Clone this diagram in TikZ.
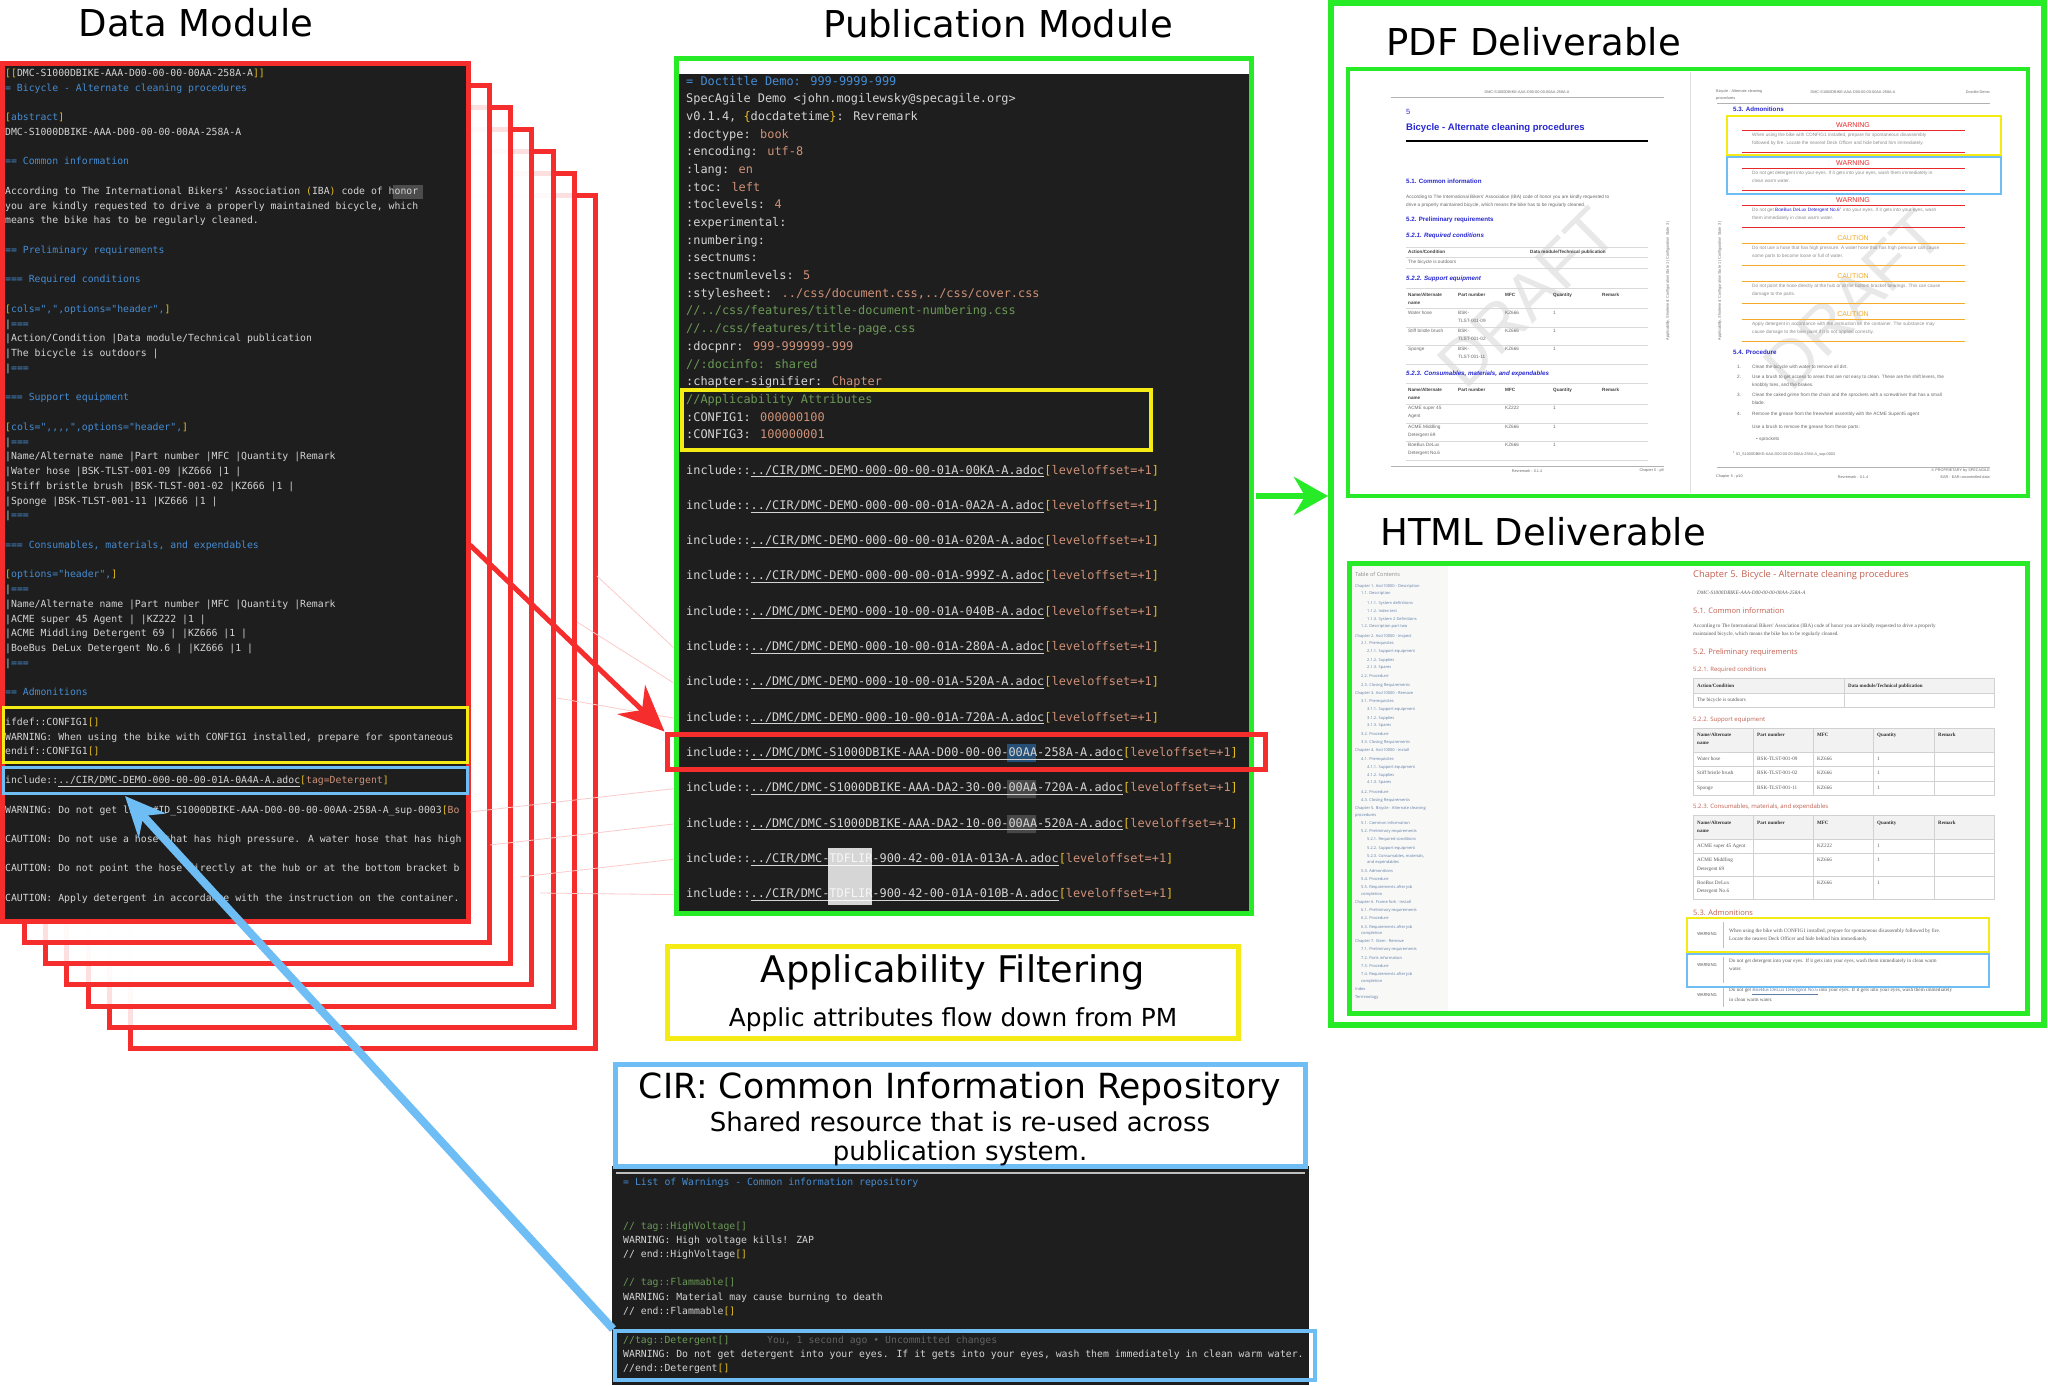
\documentclass[tikz,border=0pt]{standalone}
\usepackage{fontspec}
\setmainfont{DejaVu Sans}
\newfontfamily\codefont{DejaVu Sans Mono}[Ligatures=TeXOff]
\newfontfamily\docfont{Liberation Sans}
\newfontfamily\webfont{Liberation Serif}
\newfontfamily\webhead{Open Sans}
\usetikzlibrary{positioning,arrows.meta}
\definecolor{dmred}{RGB}{245,45,45}
\definecolor{pmgreen}{RGB}{40,235,40}
\definecolor{apyellow}{RGB}{245,235,20}
\definecolor{cirblue}{RGB}{110,190,245}
\definecolor{panel}{RGB}{30,30,30}
\definecolor{codefg}{RGB}{212,212,212}
\definecolor{codeblue}{RGB}{70,140,210}
\definecolor{codeyel}{RGB}{230,190,30}
\definecolor{codeorg}{RGB}{206,145,120}
\definecolor{codegrn}{RGB}{106,153,85}
\definecolor{selblue}{RGB}{38,79,120}
\definecolor{docblue}{RGB}{40,40,210}
\definecolor{docgray}{RGB}{105,105,105}
\definecolor{warnred}{RGB}{230,40,40}
\definecolor{cautorg}{RGB}{245,170,40}
\definecolor{webred}{RGB}{195,95,80}
\definecolor{toclink}{RGB}{95,125,165}
\definecolor{tocbg}{RGB}{248,248,247}
\newcommand{\cyel}[1]{\textcolor{codeyel}{#1}}
\newcommand{\corg}[1]{\textcolor{codeorg}{#1}}
\newcommand{\cblu}[1]{\textcolor{codeblue}{#1}}
\begin{document}
\begin{tikzpicture}[x=1pt, y=-1pt,
  heading/.style={font=\fontsize{37}{40}\selectfont, inner sep=0pt},
  dm/.style={anchor=west, inner sep=0pt, text height=7pt, text depth=2pt, text=#1,
             font=\codefont\fontsize{9.8}{11}\selectfont},
  dm/.default=codefg,
  pm/.style={anchor=west, inner sep=0pt, text height=8.5pt, text depth=2.5pt, text=#1,
             font=\codefont\fontsize{11.9}{13}\selectfont},
  pm/.default=codefg,
  cir/.style={dm=#1},
  cir/.default=codefg,
  faint/.style={dmred!25, line width=0.8pt},
  dtx/.style={anchor=west, inner sep=0pt, text=docgray, font=\docfont\fontsize{4.7}{5.5}\selectfont},
  dsm/.style={dtx, font=\docfont\fontsize{3.8}{4.5}\selectfont},
  dhd/.style={anchor=west, inner sep=0pt, text=docblue, font=\docfont\bfseries\fontsize{6.2}{7}\selectfont},
  dhi/.style={dhd, font=\docfont\bfseries\itshape\fontsize{6.2}{7}\selectfont},
  dth/.style={dtx, text=black!75, font=\docfont\bfseries\fontsize{4.6}{5.5}\selectfont},
  adm/.style={anchor=center, inner sep=0pt, text=#1, font=\docfont\fontsize{7}{8}\selectfont},
  draft/.style={text=black!9, inner sep=0pt, rotate=45, font=\docfont\fontsize{66}{66}\selectfont},
  wtx/.style={anchor=west, inner sep=0pt, text=black!65, font=\webfont\fontsize{5.2}{6}\selectfont},
  wth/.style={wtx, text=black!80, font=\webfont\bfseries\fontsize{5}{6}\selectfont},
  whd/.style={anchor=west, inner sep=0pt, text=webred, font=\webhead\fontsize{#1}{#1}\selectfont},
  toc/.style={anchor=west, inner sep=0pt, text=toclink, font=\webhead\fontsize{4}{5}\selectfont},
  wlab/.style={anchor=center, inner sep=0pt, text=black!70, font=\webhead\fontsize{4.2}{5}\selectfont},
]
\useasboundingbox[fill=white] (0,0) rectangle (2048,1385);

% ---------------- Data Module stack
\foreach \i in {6,5,...,1}
  \draw[dmred, line width=5pt, fill=white, fill opacity=0.85]
    ({3+21.3*\i},{63+22*\i}) rectangle ({468+21.3*\i},{921+21.3*\i});
\node[draw=dmred, line width=5pt, fill=panel, minimum width=466pt, minimum height=858pt, inner sep=0pt]
  (dmpanel) at (235,492) {};
\node[heading] (dmtitle) at (196,23) {Data Module};

\fill[black!70] (393,185) rectangle (423,199);
\node[dm] (d0) at (5,74) {\cyel{[[}DMC-S1000DBIKE-AAA-D00-00-00-00AA-258A-A\cyel{]]}};
\node[dm=codeblue] (d1) at (5,89) {= Bicycle - Alternate cleaning procedures};
\node[dm] (d3) at (5,118) {\cyel{[}\cblu{abstract}\cyel{]}};
\node[dm] (d4) at (5,133) {DMC-S1000DBIKE-AAA-D00-00-00-00AA-258A-A};
\node[dm=codeblue] (d6) at (5,162) {== Common information};
\node[dm] (d8) at (5,192) {According to The International Bikers' Association \cyel{(}IBA\cyel{)} code of honor};
\node[dm] (d9) at (5,207) {you are kindly requested to drive a properly maintained bicycle, which};
\node[dm] (d10) at (5,221) {means the bike has to be regularly cleaned.};
\node[dm=codeblue] (d12) at (5,251) {== Preliminary requirements};
\node[dm=codeblue] (d14) at (5,280) {=== Required conditions};
\node[dm] (d16) at (5,310) {\cyel{[}\cblu{cols=",",options="header",}\cyel{]}};
\node[dm] (d17) at (5,325) {|\cblu{===}};
\node[dm] (d18) at (5,339) {|Action/Condition |Data module/Technical publication};
\node[dm] (d19) at (5,354) {|The bicycle is outdoors |};
\node[dm] (d20) at (5,369) {|\cblu{===}};
\node[dm=codeblue] (d22) at (5,398) {=== Support equipment};
\node[dm] (d24) at (5,428) {\cyel{[}\cblu{cols=",,,,",options="header",}\cyel{]}};
\node[dm] (d25) at (5,443) {|\cblu{===}};
\node[dm] (d26) at (5,457) {|Name/Alternate name |Part number |MFC |Quantity |Remark};
\node[dm] (d27) at (5,472) {|Water hose |BSK-TLST-001-09 |KZ666 |1 |};
\node[dm] (d28) at (5,487) {|Stiff bristle brush |BSK-TLST-001-02 |KZ666 |1 |};
\node[dm] (d29) at (5,502) {|Sponge |BSK-TLST-001-11 |KZ666 |1 |};
\node[dm] (d30) at (5,516) {|\cblu{===}};
\node[dm=codeblue] (d32) at (5,546) {=== Consumables, materials, and expendables};
\node[dm] (d34) at (5,575) {\cyel{[}\cblu{options="header",}\cyel{]}};
\node[dm] (d35) at (5,590) {|\cblu{===}};
\node[dm] (d36) at (5,605) {|Name/Alternate name |Part number |MFC |Quantity |Remark};
\node[dm] (d37) at (5,620) {|ACME super 45 Agent | |KZ222 |1 |};
\node[dm] (d38) at (5,634) {|ACME Middling Detergent 69 | |KZ666 |1 |};
\node[dm] (d39) at (5,649) {|BoeBus DeLux Detergent No.6 | |KZ666 |1 |};
\node[dm] (d40) at (5,664) {|\cblu{===}};
\node[dm=codeblue] (d42) at (5,693) {== Admonitions};
\node[dm] (d44) at (5,723) {ifdef::CONFIG1\cyel{[]}};
\node[dm] (d45) at (5,738) {WARNING: When using the bike with CONFIG1 installed, prepare for spontaneous};
\node[dm] (d46) at (5,752) {endif::CONFIG1\cyel{[]}};
\node[dm] (d48) at (5,781) {include::\underline{../CIR/DMC-DEMO-000-00-00-01A-0A4A-A.adoc}\cyel{[}\corg{tag=Detergent}\cyel{]}};
\node[dm] (d50) at (5,811) {WARNING: Do not get link:\#ID\_S1000DBIKE-AAA-D00-00-00-00AA-258A-A\_sup-0003\cyel{[}\corg{Bo}};
\node[dm] (d52) at (5,840) {CAUTION: Do not use a hose that has high pressure. A water hose that has high};
\node[dm] (d54) at (5,869) {CAUTION: Do not point the hose directly at the hub or at the bottom bracket b};
\node[dm] (d56) at (5,899) {CAUTION: Apply detergent in accordance with the instruction on the container.};
\node[draw=apyellow, line width=3pt, minimum width=464pt, minimum height=55pt] (dmcfg) at (235,734.5) {};
\node[draw=cirblue, line width=3pt, minimum width=464pt, minimum height=26pt] (dminc) at (235,780) {};

% ---------------- Publication Module
\node[draw=pmgreen, line width=5pt, fill=white, minimum width=575pt, minimum height=855pt, inner sep=0pt]
  (pmframe) at (963.5,485.5) {};
\fill[panel] (679,74) rectangle (1248.5,910.5);
\node[heading] (pmtitle) at (998,24) {Publication Module};

\node[pm=codeblue] (p0) at (686,82) {= Doctitle Demo: 999-9999-999};
\node[pm] (p1) at (686,99) {SpecAgile Demo <john.mogilewsky@specagile.org>};
\node[pm] (p2) at (686,117) {v0.1.4, \cyel{\{}docdatetime\cyel{\}}: Revremark};
\node[pm] (p3) at (686,135) {:doctype: \corg{book}};
\node[pm] (p4) at (686,152) {:encoding: \corg{utf-8}};
\node[pm] (p5) at (686,170) {:lang: \corg{en}};
\node[pm] (p6) at (686,188) {:toc: \corg{left}};
\node[pm] (p7) at (686,205) {:toclevels: \corg{4}};
\node[pm] (p8) at (686,223) {:experimental:};
\node[pm] (p9) at (686,241) {:numbering:};
\node[pm] (p10) at (686,258) {:sectnums:};
\node[pm] (p11) at (686,276) {:sectnumlevels: \corg{5}};
\node[pm] (p12) at (686,294) {:stylesheet: \corg{../css/document.css,../css/cover.css}};
\node[pm=codegrn] (p13) at (686,311) {//../css/features/title-document-numbering.css};
\node[pm=codegrn] (p14) at (686,329) {//../css/features/title-page.css};
\node[pm] (p15) at (686,347) {:docpnr: \corg{999-999999-999}};
\node[pm=codegrn] (p16) at (686,365) {//:docinfo: shared};
\node[pm] (p17) at (686,382) {:chapter-signifier: \corg{Chapter}};
\node[pm=codegrn] (p18) at (686,400) {//Applicability Attributes};
\node[pm] (p19) at (686,418) {:CONFIG1: \corg{000000100}};
\node[pm] (p20) at (686,435) {:CONFIG3: \corg{100000001}};
\node[draw=apyellow, line width=4pt, minimum width=469pt, minimum height=60pt] (pmcfg) at (916.5,420) {};

\fill[selblue] (1007,744) rectangle (1036,762);
\fill[black!72] (1007,780) rectangle (1036,798) (1007,815) rectangle (1036,833);
\foreach \pth [count=\i] in {CIR/DMC-DEMO-000-00-00-01A-00KA-A, CIR/DMC-DEMO-000-00-00-01A-0A2A-A,
    CIR/DMC-DEMO-000-00-00-01A-020A-A, CIR/DMC-DEMO-000-00-00-01A-999Z-A,
    DMC/DMC-DEMO-000-10-00-01A-040B-A, DMC/DMC-DEMO-000-10-00-01A-280A-A,
    DMC/DMC-DEMO-000-10-00-01A-520A-A, DMC/DMC-DEMO-000-10-00-01A-720A-A,
    DMC/DMC-S1000DBIKE-AAA-D00-00-00-00AA-258A-A, DMC/DMC-S1000DBIKE-AAA-DA2-30-00-00AA-720A-A,
    DMC/DMC-S1000DBIKE-AAA-DA2-10-00-00AA-520A-A, CIR/DMC-TDFLIR-900-42-00-01A-013A-A,
    CIR/DMC-TDFLIR-900-42-00-01A-010B-A}
  \node[pm] (inc\i) at (686,{471+35.3*(\i-1)}) {include::\underline{../\pth.adoc}\cyel{[}\corg{leveloffset=+1}\cyel{]}};
\fill[white, fill opacity=0.82] (828,848) rectangle (872,905);
\node[draw=dmred, line width=5pt, minimum width=598pt, minimum height=35pt] (pmsel) at (966,751.5) {};

% faint traces from the stack into the includes
\foreach \sx/\sy/\j in {597/576/6, 577/622/7, 557/698/8, 470/812/10, 490/845/11, 520/877/12, 540/893/13}{
  \coordinate (src\j) at (\sx,\sy);
  \draw[faint] (src\j) -- (pmframe.west |- inc\j.west);
}

% ---------------- Applicability Filtering
\node[draw=apyellow, line width=5pt, minimum width=571pt, minimum height=92pt] (apbox) at (952.5,992) {};
\node[font=\fontsize{36.7}{40}\selectfont, inner sep=0pt] (aptitle) at (953,972) {Applicability Filtering};
\node[font=\fontsize{24.8}{28}\selectfont, inner sep=0pt] (apsub) at (953,1020) {Applic attributes flow down from PM};

% ---------------- CIR
\fill[panel] (612,1166) rectangle (1309,1385);
\draw[black!25, line width=1.5pt] (616,1173) -- (1305,1173);
\node[draw=cirblue, line width=5pt, fill=white, minimum width=690pt, minimum height=102pt] (cirbox) at (960,1115) {};
\node[font=\fontsize{34.6}{38}\selectfont, inner sep=0pt] (cirtitle) at (960,1089) {CIR: Common Information Repository};
\node[font=\fontsize{26}{29}\selectfont, align=center, inner sep=0pt] (cirsub) at (960,1139)
  {Shared resource that is re-used across\\publication system.};
\node[cir=codeblue] (c0) at (623,1183) {= List of Warnings - Common information repository};
\node[cir=codegrn] (c1) at (623,1227) {// tag::HighVoltage[]};
\node[cir] (c2) at (623,1241) {WARNING: High voltage kills! ZAP};
\node[cir] (c3) at (623,1255) {// end::HighVoltage\cyel{[]}};
\node[cir=codegrn] (c4) at (623,1283) {// tag::Flammable[]};
\node[cir] (c5) at (623,1298) {WARNING: Material may cause burning to death};
\node[cir] (c6) at (623,1312) {// end::Flammable\cyel{[]}};
\node[cir=codegrn] (c7) at (623,1341) {//tag::Detergent[]};
\node[cir=black!62] (c7b) at (767,1341) {You, 1 second ago • Uncommitted changes};
\node[cir] (c8) at (623,1355) {WARNING: Do not get detergent into your eyes. If it gets into your eyes, wash them immediately in clean warm water.};
\node[cir] (c9) at (623,1369) {//end::Detergent\cyel{[]}};
\node[draw=cirblue, line width=4pt, minimum width=700pt, minimum height=49pt] (cirtag) at (965,1355.5) {};

% ---------------- Deliverables
\node[draw=pmgreen, line width=6pt, minimum width=713pt, minimum height=1022pt] (deliv) at (1687.5,514) {};
\node[heading, anchor=west] (pdftitle) at (1386,42) {PDF Deliverable};
\node[heading, anchor=west] (htmltitle) at (1380,532) {HTML Deliverable};

% PDF pages
\draw[pmgreen, line width=4pt, fill=white] (1348,69) rectangle (2028,496);
\draw[black!12] (1690,72) -- (1690,493);
\node[draft] (wm1) at (1527,298) {DRAFT};
\node[draft] (wm2) at (1853,300) {DRAFT};
\draw[black!30, line width=0.6pt] (1391,97) -- (1664,97) (1391,466) -- (1664,466)
                                 (1717,103) -- (1990,103) (1717,467) -- (1990,467);
\node[dsm, anchor=center] (l0) at (1527,92) {DMC-S1000DBIKE-AAA-D00-00-00-00AA-258A-A};
\node[dhd, font=\docfont\fontsize{7.5}{8}\selectfont] (l1) at (1406,112) {5};
\node[dhd, font=\docfont\bfseries\fontsize{9.5}{10}\selectfont] (l2) at (1406,128) {Bicycle - Alternate cleaning procedures};
\draw[line width=2.5pt] (1406,141) -- (1648,141);
\node[dhd] (l3) at (1406,181) {5.1. Common information};
\node[dtx] (l4) at (1406,197) {According to The International Bikers' Association (IBA) code of honor you are kindly requested to};
\node[dtx] (l5) at (1406,205) {drive a properly maintained bicycle, which means the bike has to be regularly cleaned.};
\node[dhd] (l6) at (1406,220) {5.2. Preliminary requirements};
\node[dhi] (l7) at (1406,236) {5.2.1. Required conditions};
\draw[black!15] (1406,247) -- (1648,247) (1406,257) -- (1648,257) (1406,268) -- (1648,268);
\node[dth] (l8) at (1408,252) {Action/Condition};
\node[dth] (l9) at (1530,252) {Data module/Technical publication};
\node[dtx] (l10) at (1408,262) {The bicycle is outdoors};
\node[dhi] (l11) at (1406,279) {5.2.2. Support equipment};
\draw[black!15] (1406,288) -- (1648,288) (1406,308) -- (1648,308) (1406,327) -- (1648,327)
                (1406,345) -- (1648,345) (1406,364) -- (1648,364);
\node[dhi] (l12) at (1406,374) {5.2.3. Consumables, materials, and expendables};
\draw[black!15] (1406,383) -- (1648,383) (1406,404) -- (1648,404) (1406,423) -- (1648,423)
                (1406,441) -- (1648,441) (1406,460) -- (1648,460);
\foreach \hy in {295,390}{
  \node[dth] (na\hy) at (1408,\hy) {Name/Alternate};
  \node[dth] (nb\hy) at (1408,\hy+8) {name};
  \node[dth] (pn\hy) at (1458,\hy) {Part number};
  \node[dth] (mf\hy) at (1505,\hy) {MFC};
  \node[dth] (qt\hy) at (1553,\hy) {Quantity};
  \node[dth] (rm\hy) at (1602,\hy) {Remark};
}
\foreach \nm/\pn/\ry in {Water hose/09/313, Stiff bristle brush/02/331, Sponge/11/349}{
  \node[dtx] (sa\ry) at (1408,\ry) {\nm};
  \node[dtx] (sb\ry) at (1458,\ry) {BSK-};
  \node[dtx] (sc\ry) at (1458,\ry+8) {TLST-001-\pn};
  \node[dtx] (sd\ry) at (1505,\ry) {KZ666};
  \node[dtx] (se\ry) at (1553,\ry) {1};
}
\foreach \na/\nb/\mf/\ry in {ACME super 45/Agent/KZ222/408, ACME Middling/Detergent 69/KZ666/427,
                             BoeBus DeLux/Detergent No.6/KZ666/445}{
  \node[dtx] (ca\ry) at (1408,\ry) {\na};
  \node[dtx] (cb\ry) at (1408,\ry+8) {\nb};
  \node[dtx] (cc\ry) at (1505,\ry) {\mf};
  \node[dtx] (cd\ry) at (1553,\ry) {1};
}
\node[dsm, anchor=center] (l13) at (1527,471) {Revremark - 0.1.4};
\node[dsm, anchor=east] (l14) at (1664,471) {Chapter 5 - p9};
\node[dsm, rotate=90, anchor=center] (l15) at (1668,281) {Applicability, Shortened: Configuration State 1 | Configuration State 3 |};

\node[dsm] (r0) at (1716,92) {Bicycle - Alternate cleaning};
\node[dsm] (r1) at (1716,99) {procedures};
\node[dsm, anchor=center] (r2) at (1853,92) {DMC-S1000DBIKE-AAA-D00-00-00-00AA-258A-A};
\node[dsm, anchor=east] (r3) at (1990,92) {Doctitle Demo};
\node[dhd] (r4) at (1733,109) {5.3. Admonitions};
\foreach \ay/\acol/\atit/\aone/\atwo [count=\k] in {
    125/warnred/WARNING/{When using the bike with CONFIG1 installed, prepare for spontaneous disassembly}/{followed by fire. Locate the nearest Deck Officer and hide behind him immediately.},
    163/warnred/WARNING/{Do not get detergent into your eyes. If it gets into your eyes, wash them immediately in}/{clean warm water.},
    200/warnred/WARNING/{Do not get \textcolor{docblue}{BoeBus DeLux Detergent No.6}\textsuperscript{1} into your eyes. If it gets into your eyes, wash}/{them immediately in clean warm water.},
    238/cautorg/CAUTION/{Do not use a hose that has high pressure. A water hose that has high pressure can cause}/{some parts to become loose or full of water.},
    276/cautorg/CAUTION/{Do not point the hose directly at the hub or at the bottom bracket bearings. This can cause}/{damage to the parts.},
    314/cautorg/CAUTION/{Apply detergent in accordance with the instruction on the container. The substance may}/{cause damage to the bike paint if it is not applied correctly.}}{
  \node[adm=\acol] (at\k) at (1853,\ay) {\atit};
  \draw[\acol, line width=0.8pt] (1742,\ay+5) -- (1965,\ay+5) (1742,\ay+27) -- (1965,\ay+27);
  \node[dtx, text=black!45] (aa\k) at (1752,\ay+10) {\aone};
  \node[dtx, text=black!45] (ab\k) at (1752,\ay+18) {\atwo};
}
\draw[apyellow, line width=2.5pt] (1727,116) rectangle (2001,155);
\draw[cirblue, line width=2.5pt] (1727,157) rectangle (2001,194);
\node[dhd] (r5) at (1733,352) {5.4. Procedure};
\node[dtx] (r6) at (1737,367) {1.};
\node[dtx] (r7) at (1752,367) {Clean the bicycle with water to remove all dirt.};
\node[dtx] (r8) at (1737,377) {2.};
\node[dtx] (r9) at (1752,377) {Use a brush to get access to areas that are not easy to clean. These are the shift levers, the};
\node[dtx] (r10) at (1752,385) {knobbly tires, and the brakes.};
\node[dtx] (r11) at (1737,395) {3.};
\node[dtx] (r12) at (1752,395) {Clean the caked grime from the chain and the sprockets with a screwdriver that has a small};
\node[dtx] (r13) at (1752,403) {blade.};
\node[dtx] (r14) at (1737,414) {4.};
\node[dtx] (r15) at (1752,414) {Remove the grease from the freewheel assembly with the ACME Super45 agent};
\node[dtx] (r16) at (1752,427) {Use a brush to remove the grease from these parts:};
\node[dtx] (r17) at (1756,439) {• sprockets};
\node[dsm] (r18) at (1733,454) {\textsuperscript{1} ID\_S1000DBIKE-AAA-D00-00-00-00AA-258A-A\_sup-0003};
\node[dsm] (r19) at (1716,477) {Chapter 5 - p10};
\node[dsm, anchor=center] (r20) at (1853,477) {Revremark - 0.1.4};
\node[dsm, anchor=east] (r21) at (1990,471) {© PROPRIETARY by SPECAGILE};
\node[dsm, anchor=east] (r22) at (1990,477) {EAR - EAR uncontrolled data};
\node[dsm, rotate=90, anchor=center] (r23) at (1720,281) {Applicability, Shortened: Configuration State 1 | Configuration State 3 |};

% HTML page
\draw[pmgreen, line width=5pt, fill=white] (1349,563) rectangle (2027,1013);
\fill[tocbg] (1351.5,565.5) rectangle (1448,1010.5);
\node[toc, text=black!45, font=\webhead\fontsize{5.5}{6}\selectfont] (toc0) at (1355,574) {Table of Contents};
\foreach \ty/\lv/\ttxt [count=\n] in {586/0/Chapter 1. Asci10000 - Description, 594/1/1.1. Description,
    603/2/1.1.1. System definitions, 611/2/1.1.2. Index test, 619/2/1.1.3. System 2 Definitions,
    627/1/1.2. Description part two, 636/0/Chapter 2. Asci10000 - Inspect, 644/1/2.1. Prerequisites,
    652/2/2.1.1. Support equipment, 660/2/2.1.2. Supplies, 668/2/2.1.3. Spares, 676/1/2.2. Procedure,
    685/1/2.3. Closing Requirements, 693/0/Chapter 3. Asci10000 - Remove, 701/1/3.1. Prerequisites,
    710/2/3.1.1. Support equipment, 718/2/3.1.2. Supplies, 726/2/3.1.3. Spares, 734/1/3.2. Procedure,
    742/1/3.3. Closing Requirements, 750/0/Chapter 4. Asci10000 - Install, 759/1/4.1. Prerequisites,
    767/2/4.1.1. Support equipment, 775/2/4.1.2. Supplies, 783/2/4.1.3. Spares, 792/1/4.2. Procedure,
    800/1/4.3. Closing Requirements, 808/0/Chapter 5. Bicycle - Alternate cleaning, 815/0/procedures,
    823/1/5.1. Common information, 831/1/5.2. Preliminary requirements, 839/2/5.2.1. Required conditions,
    848/2/5.2.2. Support equipment, 856/2/{5.2.3. Consumables, materials,}, 862/2/and expendables,
    871/1/5.3. Admonitions, 879/1/5.4. Procedure, 887/1/5.5. Requirements after job, 894/1/completion,
    902/0/Chapter 6. Frame fork - Install, 910/1/6.1. Preliminary requirements, 918/1/6.2. Procedure,
    927/1/6.3. Requirements after job, 933/1/completion, 941/0/Chapter 7. Stem - Remove,
    949/1/7.1. Preliminary requirements, 958/1/7.2. Parts information, 966/1/7.3. Procedure,
    974/1/7.4. Requirements after job, 981/1/completion, 989/0/Index, 997/0/Terminology}
  \node[toc] (toc\n) at ({1355+6*\lv},\ty) {\ttxt};

\node[whd=9.3] (h1) at (1693,575) {Chapter 5. Bicycle - Alternate cleaning procedures};
\node[wtx, font=\webfont\itshape\fontsize{5.2}{6}\selectfont] (h2) at (1697,593) {DMC-S1000DBIKE-AAA-D00-00-00-00AA-258A-A};
\node[whd=7.5] (h3) at (1693,611) {5.1. Common information};
\node[wtx] (h4) at (1693,626) {According to The International Bikers' Association (IBA) code of honor you are kindly requested to drive a properly};
\node[wtx] (h5) at (1693,634) {maintained bicycle, which means the bike has to be regularly cleaned.};
\node[whd=7.5] (h6) at (1693,653) {5.2. Preliminary requirements};
\node[whd=6] (h7) at (1693,670) {5.2.1. Required conditions};
\draw[black!18, fill=black!5] (1693,678) rectangle (1994,693);
\draw[black!18] (1693,693) rectangle (1994,707) (1844,678) -- (1844,707);
\node[wth] (h8) at (1697,686) {Action/Condition};
\node[wth] (h9) at (1848,686) {Data module/Technical publication};
\node[wtx] (h10) at (1697,700) {The bicycle is outdoors};
\node[whd=6] (h11) at (1693,720) {5.2.2. Support equipment};
\draw[black!18, fill=black!5] (1693,728) rectangle (1994,752);
\draw[black!18] (1693,752) rectangle (1994,795) (1693,766) -- (1994,766) (1693,781) -- (1994,781);
\node[whd=6] (h12) at (1693,807) {5.2.3. Consumables, materials, and expendables};
\draw[black!18, fill=black!5] (1693,815) rectangle (1994,839);
\draw[black!18] (1693,839) rectangle (1994,899) (1693,853) -- (1994,853) (1693,876) -- (1994,876);
\foreach \cx in {1753,1813,1873,1934}
  \draw[black!18] (\cx,728) -- (\cx,795) (\cx,815) -- (\cx,899);
\foreach \hy in {735,823}{
  \node[wth] (wa\hy) at (1697,\hy) {Name/Alternate};
  \node[wth] (wb\hy) at (1697,\hy+8) {name};
  \node[wth] (wc\hy) at (1757,\hy) {Part number};
  \node[wth] (wd\hy) at (1817,\hy) {MFC};
  \node[wth] (we\hy) at (1877,\hy) {Quantity};
  \node[wth] (wf\hy) at (1938,\hy) {Remark};
}
\foreach \nm/\pn/\ry in {Water hose/09/759, Stiff bristle brush/02/773, Sponge/11/788}{
  \node[wtx] (ws\ry) at (1697,\ry) {\nm};
  \node[wtx] (wt\ry) at (1757,\ry) {BSK-TLST-001-\pn};
  \node[wtx] (wu\ry) at (1817,\ry) {KZ666};
  \node[wtx] (wv\ry) at (1877,\ry) {1};
}
\node[wtx] (wx1) at (1697,846) {ACME super 45 Agent};
\node[wtx] (wx2) at (1697,860) {ACME Middling};
\node[wtx] (wx3) at (1697,869) {Detergent 69};
\node[wtx] (wx4) at (1697,883) {BoeBus DeLux};
\node[wtx] (wx5) at (1697,891) {Detergent No.6};
\foreach \mf/\ry in {KZ222/846, KZ666/860, KZ666/883}{
  \node[wtx] (wy\ry) at (1817,\ry) {\mf};
  \node[wtx] (wz\ry) at (1877,\ry) {1};
}
\node[whd=7.5] (h13) at (1693,913) {5.3. Admonitions};
\draw[black!25] (1723,922) -- (1723,948) (1723,957) -- (1723,983) (1723,987) -- (1723,1007);
\node[wlab] (wl1) at (1707,934) {WARNING};
\node[wlab] (wl2) at (1707,965) {WARNING};
\node[wlab] (wl3) at (1707,995) {WARNING};
\node[wtx] (wm1a) at (1729,931) {When using the bike with CONFIG1 installed, prepare for spontaneous disassembly followed by fire.};
\node[wtx] (wm1b) at (1729,939) {Locate the nearest Deck Officer and hide behind him immediately.};
\node[wtx] (wm2a) at (1729,961) {Do not get detergent into your eyes. If it gets into your eyes, wash them immediately in clean warm};
\node[wtx] (wm2b) at (1729,969) {water.};
\node[wtx] (wm3a) at (1729,991) {Do not get \textcolor{toclink}{\underline{BoeBus DeLux Detergent No.6}} into your eyes. If it gets into your eyes, wash them immediately};
\node[wtx] (wm3b) at (1729,1000) {in clean warm water.};
\draw[apyellow, line width=2.5pt] (1687,918) rectangle (1989,952);
\draw[cirblue, line width=2.5pt] (1687,954) rectangle (1989,987);

% ---------------- connectors
\coordinate (dmout) at (470,545);
\coordinate (incpt) at (125,796);
\coordinate (pmout) at (1256,496);
\draw[dmred, line width=5pt, -{Stealth[length=46pt,width=40pt]}] (dmout) -- (pmsel.north west);
\draw[pmgreen, line width=6pt, -{Stealth[length=34pt,width=38pt]}] (pmout) -- (pmout -| deliv.west);
\draw[cirblue, line width=8pt, -{Stealth[length=40pt,width=36pt]}] (cirtag.north west) -- (incpt);
\end{tikzpicture}
\end{document}
